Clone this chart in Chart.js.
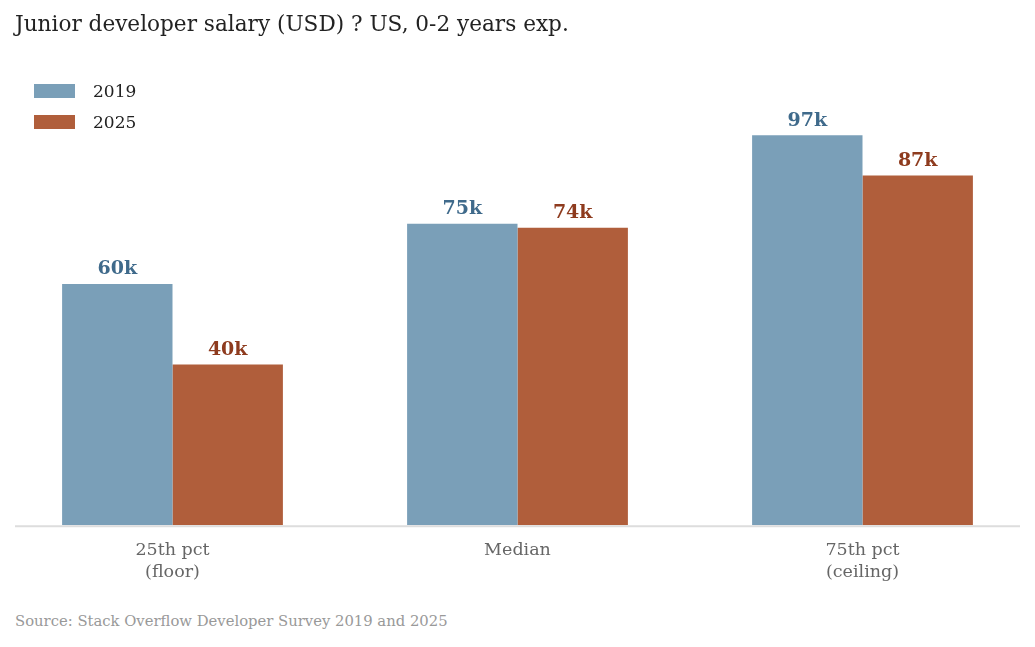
<!DOCTYPE html>
<html>
<head>
<meta charset="utf-8">
<script src="https://cdn.jsdelivr.net/npm/chart.js@4"></script>
<style>
  body { margin: 0; background: #fff; font-family: "DejaVu Serif", serif; }
  #wrap { position: relative; width: 1035px; height: 647px; }
  #title { position: absolute; left: 15px; top: 11px; font-size: 21.6px; color: #222; white-space: nowrap; }
  #legend { position: absolute; left: 34px; top: 75px; font-size: 17px; color: #222; }
  .item { display: flex; align-items: center; height: 31px; }
  .swatch { width: 41px; height: 14px; margin-right: 18px; }
  #source { position: absolute; left: 15px; top: 612px; font-size: 14.8px; color: #999; white-space: nowrap; }
  #chartBox { position: absolute; left: 0; top: 0; width: 1035px; height: 597px; }
</style>
</head>
<body>
<div id="wrap">
  <div id="chartBox"><canvas id="myChart"></canvas></div>
  <div id="title">Junior developer salary (USD) ? US, 0-2 years exp.</div>
  <div id="legend"></div>
  <div id="source">Source: Stack Overflow Developer Survey 2019 and 2025</div>
</div>
<script>
const categories = [["25th pct", "(floor)"], "Median", ["75th pct", "(ceiling)"]];
const seriesNames = ["2019", "2025"];
const salary2019 = [60, 75, 97]; // thousands USD
const salary2025 = [40, 74, 87];

const barColors = ["#7a9fb8", "#b05e3b"];
const labelColors = ["#3f6a8b", "#8e3b1e"];

// Value labels above each bar
const valueLabels = {
  id: "valueLabels",
  afterDatasetsDraw(chart) {
    const { ctx } = chart;
    ctx.save();
    ctx.font = "bold 19px 'DejaVu Serif', serif";
    ctx.textAlign = "center";
    ctx.textBaseline = "bottom";
    chart.data.datasets.forEach((ds, i) => {
      ctx.fillStyle = labelColors[i];
      chart.getDatasetMeta(i).data.forEach((bar, j) => {
        ctx.fillText(ds.data[j] + "k", bar.x, bar.y - 5);
      });
    });
    ctx.restore();
  },
};

// Light baseline under the bars
const baseline = {
  id: "baseline",
  afterDatasetsDraw(chart) {
    const { ctx } = chart;
    const y = chart.scales.y.getPixelForValue(0);
    ctx.save();
    ctx.strokeStyle = "#dddddd";
    ctx.lineWidth = 2;
    ctx.beginPath();
    ctx.moveTo(15, y + 1);
    ctx.lineTo(1020, y + 1);
    ctx.stroke();
    ctx.restore();
  },
};

const chart = new Chart(document.getElementById("myChart"), {
  type: "bar",
  data: {
    labels: categories,
    datasets: [
      { label: seriesNames[0], data: salary2019, backgroundColor: barColors[0] },
      { label: seriesNames[1], data: salary2025, backgroundColor: barColors[1] },
    ],
  },
  options: {
    responsive: true,
    maintainAspectRatio: false,
    animation: false,
    datasets: { bar: { barPercentage: 1, categoryPercentage: 0.64 } },
    layout: { padding: { top: 83, left: 0, right: 0, bottom: 0 } },
    plugins: {
      legend: { display: false },
      tooltip: { enabled: false },
    },
    scales: {
      x: {
        grid: { display: false, drawTicks: false },
        border: { display: false },
        ticks: {
          color: "#666",
          padding: 14,
          font: { family: "'DejaVu Serif', serif", size: 17.5, lineHeight: 1.25 },
        },
      },
      y: {
        display: false,
        min: 0,
        max: 110,
      },
    },
  },
  plugins: [valueLabels, baseline],
});

// HTML legend built from the datasets
const legendEl = document.getElementById("legend");
chart.data.datasets.forEach((ds) => {
  const item = document.createElement("div");
  item.className = "item";
  item.innerHTML = `<span class="swatch" style="background:${ds.backgroundColor}"></span>${ds.label}`;
  legendEl.appendChild(item);
});
</script>
</body>
</html>
